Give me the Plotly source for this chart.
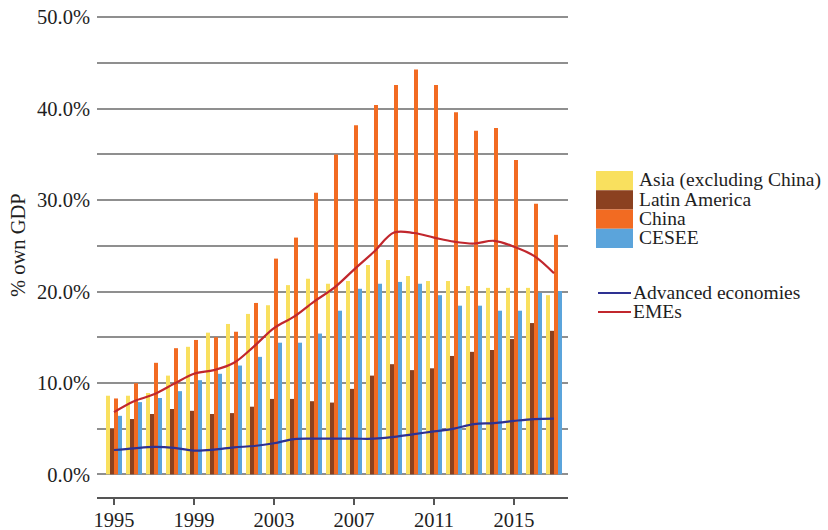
import plotly.graph_objects as go

years = list(range(1995, 2018))

asia = [8.6, 8.6, 8.9, 10.8, 13.95, 15.5, 16.45, 17.55, 18.5, 20.7, 21.4, 20.85,
        21.15, 22.9, 23.45, 21.7, 21.15, 21.15, 20.6, 20.4, 20.4, 20.4, 19.6]
latin_america = [5.0, 6.05, 6.6, 7.15, 6.95, 6.6, 6.7, 7.4, 8.25, 8.25, 8.0, 7.85,
                 9.35, 10.8, 12.05, 11.4, 11.6, 12.95, 13.4, 13.6, 14.8, 16.55, 15.7]
china = [8.3, 9.97, 12.2, 13.8, 14.7, 15.0, 15.6, 18.75, 23.6, 25.9, 30.8, 35.0,
         38.2, 40.4, 42.6, 44.3, 42.6, 39.6, 37.6, 37.9, 34.4, 29.6, 26.2]
cesee = [6.4, 7.9, 8.35, 9.1, 10.3, 11.0, 11.9, 12.85, 14.4, 14.4, 15.4, 17.9,
         20.3, 20.85, 21.05, 20.85, 19.6, 18.45, 18.45, 17.9, 17.9, 19.85, 20.05]
advanced = [2.66, 2.85, 3.0, 2.9, 2.6, 2.7, 2.95, 3.1, 3.4, 3.85, 3.9, 3.9,
            3.9, 3.9, 4.1, 4.4, 4.7, 5.0, 5.5, 5.6, 5.85, 6.05, 6.1]
emes = [6.8, 8.0, 8.75, 9.9, 11.0, 11.4, 12.2, 14.0, 16.0, 17.25, 18.9, 20.4,
        22.4, 24.35, 26.45, 26.4, 25.9, 25.45, 25.25, 25.55, 24.9, 23.9, 22.0]

x_ticks = [1995, 1999, 2003, 2007, 2011, 2015]
y_ticks = [0, 10, 20, 30, 40, 50]
y_tick_labels = ["0.0%", "10.0%", "20.0%", "30.0%", "40.0%", "50.0%"]

bar_names = ["Asia (excluding China)", "Latin America", "China", "CESEE"]
bar_values = [asia, latin_america, china, cesee]
bar_colors = ["#F9E05E", "#8B4120", "#F26B22", "#5BA4DB"]
line_names = ["Advanced economies", "EMEs"]
line_values = [advanced, emes]
line_colors = ["#2E3192", "#C1272D"]

FONT = "Liberation Serif"
TXT = "#1e1e1e"
W, H = 828, 530
ML, MT = 97, 15
MR, MB = 828 - 568, 530 - 497
PW, PH = W - ML - MR, H - MT - MB


def px2x(px):
    """screen pixel x -> paper x"""
    return (px - ML) / PW


def px2y(py):
    """screen pixel y -> paper y"""
    return (H - MB - py) / PH


fig = go.Figure()
for name, vals, col in zip(bar_names, bar_values, bar_colors):
    fig.add_trace(go.Bar(x=years, y=vals, name=name, marker_color=col,
                         marker_line_width=0, showlegend=False))
for name, vals, col in zip(line_names, line_values, line_colors):
    fig.add_trace(go.Scatter(x=years, y=vals, name=name, mode="lines",
                             line=dict(color=col, width=2.2, shape="spline"),
                             showlegend=False))

shapes = []
annotations = []
# bar legend (stacked swatches)
sw_top, sw_h = 171, 19.25
for i, (name, col) in enumerate(zip(bar_names, bar_colors)):
    y0 = sw_top + i * sw_h
    shapes.append(dict(type="rect", xref="paper", yref="paper",
                       x0=px2x(596), x1=px2x(633), y0=px2y(y0), y1=px2y(y0 + sw_h),
                       fillcolor=col, line_width=0, layer="above"))
    annotations.append(dict(text=name, xref="paper", yref="paper",
                            x=px2x(637), y=px2y(y0 + sw_h / 2 - 0.5),
                            xanchor="left", yanchor="middle", showarrow=False,
                            font=dict(family=FONT, size=19.5, color=TXT)))
# line legend
for i, (name, col) in enumerate(zip(line_names, line_colors)):
    yy = 293 + i * 19
    shapes.append(dict(type="line", xref="paper", yref="paper",
                       x0=px2x(598), x1=px2x(631), y0=px2y(yy), y1=px2y(yy),
                       line=dict(color=col, width=2)))
    annotations.append(dict(text=name, xref="paper", yref="paper",
                            x=px2x(631), y=px2y(yy - 1),
                            xanchor="left", yanchor="middle", showarrow=False,
                            font=dict(family=FONT, size=19.5, color=TXT)))

annotations.append(dict(text="% own GDP", textangle=-90, xref="paper", yref="paper",
                        x=px2x(18), y=px2y(245), xanchor="center", yanchor="middle",
                        showarrow=False, font=dict(family=FONT, size=20.5, color=TXT)))

fig.update_layout(
    width=W, height=H,
    margin=dict(l=ML, r=MR, t=MT, b=MB, autoexpand=False),
    paper_bgcolor="white", plot_bgcolor="white",
    barmode="group", bargap=0.2, bargroupgap=0,
    font=dict(family=FONT, color=TXT, size=17),
    showlegend=False,
    xaxis=dict(range=[1994.15, 2017.7], tickvals=x_ticks, showgrid=False,
               showline=True, linecolor="#555555", linewidth=2,
               ticks="outside", ticklen=6, tickcolor="#555555", tickwidth=1.5,
               tickfont=dict(family=FONT, size=20.5, color=TXT),
               ticklabelstandoff=-3, automargin=False, zeroline=False),
    yaxis=dict(range=[-2.48, 50.25], tickvals=y_ticks, ticktext=y_tick_labels,
               showgrid=True, gridcolor="#8f8f8f", gridwidth=1.5,
               minor=dict(dtick=5, showgrid=True, gridcolor="#8f8f8f", gridwidth=1.5),
               showline=False, zeroline=False, ticks="",
               tickfont=dict(family=FONT, size=20.5, color=TXT),
               ticklabeloverflow="allow",
               ticklabelstandoff=6, automargin=False),
    shapes=shapes,
    annotations=annotations,
)

# remove the browser's default 8px body margin so the figure sits at the window origin
fig.write_html("out.html", config={"displayModeBar": False},
               post_script="document.body.style.margin='0';")
